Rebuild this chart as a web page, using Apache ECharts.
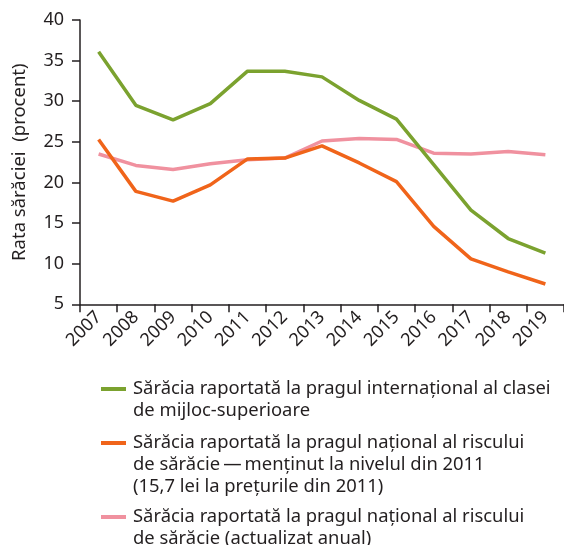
<!DOCTYPE html>
<html>
<head>
<meta charset="utf-8">
<script src="https://cdn.jsdelivr.net/npm/echarts@6/dist/echarts.min.js"></script>
<style>
  html, body { margin: 0; padding: 0; background: #fff; }
  #chart { width: 564px; height: 545px; }
</style>
</head>
<body>
<div id="chart"></div>
<script>
// ani
const years = ['2007', '2008', '2009', '2010', '2011', '2012', '2013',
  '2014', '2015', '2016', '2017', '2018', '2019'];

// pragul international al clasei de mijloc-superioare
const pragInternational = [36.1, 29.5, 27.7, 29.7, 33.7, 33.7, 33.0, 30.1, 27.8, 22.2, 16.6, 13.1, 11.3];
// pragul national, mentinut la nivelul din 2011
const pragNational2011 = [25.3, 18.9, 17.7, 19.7, 22.9, 23.0, 24.5, 22.4, 20.1, 14.6, 10.6, 9.0, 7.5];
// pragul national, actualizat anual
const pragNationalAnual = [23.5, 22.1, 21.6, 22.3, 22.8, 23.0, 25.1, 25.4, 25.3, 23.6, 23.5, 23.8, 23.4];

const yTicks = { min: 5, max: 40, interval: 5 };

const seriesNames = [
  'Sărăcia raportată la pragul internațional al clasei\nde mijloc-superioare',
  'Sărăcia raportată la pragul național al riscului\nde sărăcie\u2009—\u2009menținut la nivelul din 2011\n(15,7 lei la prețurile din 2011)',
  'Sărăcia raportată la pragul național al riscului\nde sărăcie (actualizat anual)'
];
const colors = ['#7ba22f', '#f0641a', '#f0919f'];

const chart = echarts.init(document.getElementById('chart'));
const font = '"Noto Sans", sans-serif';
const textColor = '#231f20';

// legenda desenata manual (icon aliniat cu primul rand)
const legendTops = [378, 432, 506];
const legendGraphic = [];
seriesNames.forEach((name, i) => {
  legendGraphic.push({
    type: 'rect',
    shape: { x: 101, y: legendTops[i] + 9, width: 25, height: 4 },
    style: { fill: colors[i] }
  });
  legendGraphic.push({
    type: 'text',
    x: 133,
    y: legendTops[i],
    style: {
      text: name,
      font: '18.4px ' + font,
      fill: textColor,
      lineHeight: 22,
      verticalAlign: 'top'
    }
  });
});

const option = {
  animation: false,
  grid: { left: 80, top: 20, width: 489.5, height: 284.3 },
  xAxis: {
    type: 'category',
    data: years,
    boundaryGap: true,
    axisLine: { lineStyle: { color: textColor, width: 1.5 } },
    axisTick: { show: true, length: 8, alignWithLabel: false, lineStyle: { color: textColor, width: 1.5 } },
    axisLabel: {
      rotate: 45, interval: 0, margin: 10,
      color: textColor, fontSize: 18, fontFamily: font
    }
  },
  yAxis: {
    type: 'value',
    min: yTicks.min, max: yTicks.max, interval: yTicks.interval,
    name: 'Rata sărăciei  (procent)',
    nameLocation: 'middle',
    nameGap: 51,
    nameTextStyle: { color: textColor, fontSize: 18.5, fontFamily: font },
    splitLine: { show: false },
    axisLine: { show: true, lineStyle: { color: textColor, width: 1.5 } },
    axisTick: { show: true, length: 8, lineStyle: { color: textColor, width: 1.5 } },
    axisLabel: { color: textColor, fontSize: 18, fontFamily: font, margin: 16 }
  },
  series: [
    { name: seriesNames[0], data: pragInternational },
    { name: seriesNames[1], data: pragNational2011 },
    { name: seriesNames[2], data: pragNationalAnual }
  ].map((s, i) => ({
    type: 'line',
    name: s.name,
    data: s.data,
    showSymbol: false,
    z: 3 - i,
    lineStyle: { color: colors[i], width: 3.5 },
    itemStyle: { color: colors[i] }
  })),
  graphic: legendGraphic
};

chart.setOption(option);
</script>
</body>
</html>
